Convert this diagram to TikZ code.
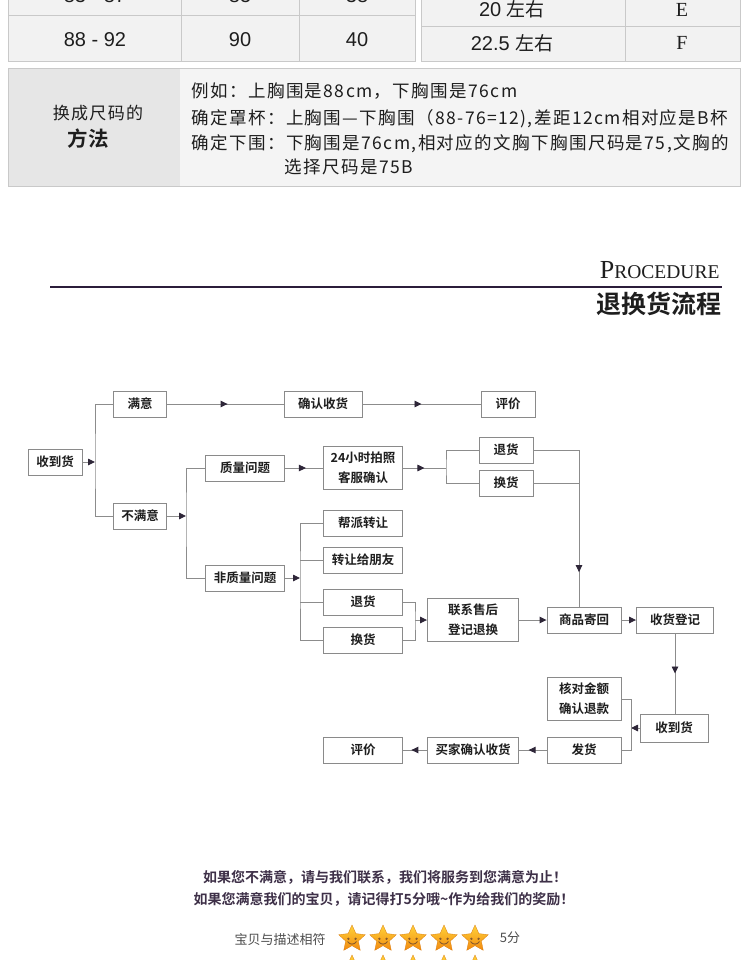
\documentclass[tikz,border=0pt]{standalone}
\usepackage{fontspec}
\usetikzlibrary{arrows.meta,decorations.markings,shapes.geometric}
\newfontfamily\cjk{Noto Sans CJK SC}[BoldFont={Noto Sans CJK SC Bold}]
\newfontfamily\cjkwide{Noto Sans CJK SC}[LetterSpace=8]
\newfontfamily\arialish{Liberation Sans}
\newfontfamily\timesish{Liberation Serif}

\definecolor{boxgray}{HTML}{8A8A8A}
\definecolor{linegray}{HTML}{8C8C8C}
\definecolor{arrowdark}{HTML}{2E2638}
\definecolor{textdark}{HTML}{1E1E1E}
\definecolor{cellgray}{HTML}{F2F2F2}
\definecolor{tableline}{HTML}{C9C9C9}
\definecolor{methodleft}{HTML}{E6E6E6}
\definecolor{methodright}{HTML}{F4F4F4}
\definecolor{headline}{HTML}{2B1D3A}
\definecolor{notepurple}{HTML}{3E3048}
\definecolor{starhi}{HTML}{FFD23A}
\definecolor{starlo}{HTML}{F28A10}

\tikzset{
  flowbox/.style={draw=boxgray, line width=0.9pt, fill=white, minimum height=26pt,
    inner sep=0pt, text=textdark, align=center,
    font=\cjk\bfseries\fontsize{12.5}{20}\selectfont},
  tallbox/.style={flowbox, minimum height=43pt},
  link/.style={draw=linegray, line width=0.9pt},
  endarrow/.style={-{Triangle[length=7pt,width=6.5pt,color=arrowdark]}},
  arrowat/.style={postaction={decorate}, decoration={markings,
    mark=at position #1 with {\arrow{Triangle[length=7pt,width=6.5pt,color=arrowdark]}}}},
  celltext/.style={font=\arialish\fontsize{20}{20}\selectfont, text=textdark},
  methodtext/.style={anchor=west, font=\cjkwide\fontsize{17.5}{18}\selectfont, text=textdark},
}

\begin{document}
\begin{tikzpicture}[x=1pt,y=-1pt]
\useasboundingbox (0,0) rectangle (750,960);
\clip (0,0) rectangle (750,960);
\fill[white] (0,0) rectangle (750,960);

% size tables (cut at the top)
\filldraw[fill=cellgray, draw=tableline] (8,-30) rectangle (415,61);
\draw[tableline] (8,15) -- (415,15) (181,-30) -- (181,61) (299,-30) -- (299,61);
\node[celltext] (lowA) at (95,-4) {83 - 87};
\node[celltext] (midA) at (240,-4) {85};
\node[celltext] (capA) at (357,-4) {38};
\node[celltext] (lowB) at (95,40) {88 - 92};
\node[celltext] (midB) at (240,40) {90};
\node[celltext] (capB) at (357,40) {40};

\filldraw[fill=cellgray, draw=tableline] (421,-30) rectangle (740,61);
\draw[tableline] (421,26) -- (740,26) (625,-30) -- (625,61);
\node[celltext] (diffE) at (512,9) {20 {\cjk\fontsize{19}{19}\selectfont 左右}};
\node[celltext, font=\timesish\fontsize{20}{20}\selectfont] (cupE) at (682,10) {E};
\node[celltext] (diffF) at (512,43) {22.5 {\cjk\fontsize{19}{19}\selectfont 左右}};
\node[celltext, font=\timesish\fontsize{20}{20}\selectfont] (cupF) at (682,43) {F};

% method box
\fill[methodleft] (8,68) rectangle (180,186);
\fill[methodright] (180,68) rectangle (740,186);
\draw[tableline] (8,68) rectangle (740,186);
\node[font=\cjkwide\fontsize{17}{18}\selectfont, text=textdark] (mhead) at (98,113) {换成尺码的};
\node[font=\cjk\bfseries\fontsize{20.5}{22}\selectfont, text=textdark] (mname) at (88,139) {方法};
\node[methodtext] (mline1) at (188,91) {例如：上胸围是88cm，下胸围是76cm};
\node[methodtext] (mline2) at (188,119) {确定罩杯：上胸围—下胸围（88-76=12),差距12cm相对应是B杯};
\node[methodtext] (mline3) at (188,144) {确定下围：下胸围是76cm,相对应的文胸下胸围尺码是75,文胸的};
\node[methodtext] (mline4) at (281,167) {选择尺码是75B};

% heading
\node[anchor=base east, text=textdark] (proc) at (723,278)
  {\timesish{\fontsize{26}{26}\selectfont P}{\fontsize{19.5}{20}\selectfont ROCEDURE}};
\draw[headline, line width=1.2pt] (50,287) -- (722,287);
\node[anchor=east, text=textdark, font=\cjk\bfseries\fontsize{25}{27}\selectfont] (title) at (725,304) {退换货流程};

% flow chart
\node[flowbox, minimum width=54pt] (recv) at (55,462) {收到货};
\node[flowbox, minimum width=53pt] (happy) at (140,404) {满意};
\node[flowbox, minimum width=78pt] (confirm) at (323,404) {确认收货};
\node[flowbox, minimum width=54pt] (review) at (508,404) {评价};
\node[flowbox, minimum width=53pt] (unhappy) at (140,516) {不满意};
\node[flowbox, minimum width=79pt] (quality) at (245,468) {质量问题};
\node[tallbox, minimum width=79pt] (photo) at (363,468) {24小时拍照\\客服确认};
\node[flowbox, minimum width=54pt] (returnA) at (506,450) {退货};
\node[flowbox, minimum width=54pt] (swapA) at (506,483) {换货};
\node[flowbox, minimum width=79pt] (gang) at (363,523) {帮派转让};
\node[flowbox, minimum width=79pt] (friend) at (363,560) {转让给朋友};
\node[flowbox, minimum width=79pt] (nonquality) at (245,578) {非质量问题};
\node[flowbox, minimum width=79pt] (returnB) at (363,602) {退货};
\node[flowbox, minimum width=79pt] (swapB) at (363,640) {换货};
\node[tallbox, minimum width=91pt] (service) at (473,620) {联系售后\\登记退换};
\node[flowbox, minimum width=74pt] (sendback) at (584,620) {商品寄回};
\node[flowbox, minimum width=77pt] (register) at (675,620) {收货登记};
\node[tallbox, minimum width=74pt] (refund) at (584,699) {核对金额\\确认退款};
\node[flowbox, minimum width=68pt, minimum height=28pt] (recvB) at (674,728) {收到货};
\node[flowbox, minimum width=74pt] (ship) at (584,750) {发货};
\node[flowbox, minimum width=91pt] (buyer) at (473,750) {买家确认收货};
\node[flowbox, minimum width=79pt] (reviewB) at (363,750) {评价};

\coordinate (forkA) at (95,462);
\coordinate (forkB) at (186,516);
\coordinate (forkC) at (446,468);
\coordinate (forkD) at (579,450);
\coordinate (forkE) at (300,578);
\coordinate (forkF) at (415,620);
\coordinate (forkG) at (631,728);

\draw[link, endarrow] (recv) -- (forkA);
\draw[link] (happy.west) -| (forkA) |- (unhappy.west);
\draw[link, arrowat=.52] (happy) -- (confirm);
\draw[link, arrowat=.5] (confirm) -- (review);

\draw[link, endarrow] (unhappy) -- (forkB);
\draw[link] (quality.west) -| (forkB) |- (nonquality.west);
\draw[link, arrowat=.55] (quality) -- (photo);
\draw[link, arrowat=.5] (photo) -- (forkC);
\draw[link] (returnA.west) -| (forkC) |- (swapA.west);

\draw[link] (returnA.east) -- (forkD);
\draw[link] (swapA.east) -- (swapA.east -| forkD);
\draw[link, arrowat=.78] (forkD) -- (forkD |- sendback.north);

\draw[link, endarrow] (nonquality) -- (forkE);
\draw[link] (gang.west) -| (forkE) |- (swapB.west);
\draw[link] (friend.west) -- (friend.west -| forkE);
\draw[link] (returnB.west) -- (returnB.west -| forkE);
\draw[link] (returnB.east) -| (forkF) |- (swapB.east);
\draw[link, endarrow] (forkF) -- (service);

\draw[link, endarrow] (service) -- (sendback);
\draw[link, endarrow] (sendback) -- (register);
\draw[link, arrowat=.5] (register) -- (register |- recvB.north);
\draw[link, endarrow] (recvB) -- (forkG);
\draw[link] (refund.east) -| (forkG) |- (ship.east);
\draw[link, arrowat=.65] (ship) -- (buyer);
\draw[link, arrowat=.65] (buyer) -- (reviewB);

% closing note
\node[font=\cjk\bfseries\fontsize{14}{16}\selectfont, text=notepurple] (note1) at (385,877)
  {如果您不满意，请与我们联系，我们将服务到您满意为止！};
\node[font=\cjk\bfseries\fontsize{14}{16}\selectfont, text=notepurple] (note2) at (384,899)
  {如果您满意我们的宝贝，请记得打5分哦\textasciitilde 作为给我们的奖励！};
\node[font=\cjk\fontsize{13}{15}\selectfont, text=black!70] (match) at (280,939) {宝贝与描述相符};
\node[font=\cjk\fontsize{13}{15}\selectfont, text=black!70] (score) at (510,938) {5分};
\foreach \sx in {352,383,413,444,475} {
  \foreach \sy in {939,969} {
    \node[star, star points=5, star point ratio=2.1, minimum size=28pt, inner sep=0pt,
      top color=starhi, bottom color=starlo, draw=starlo!90!black, line width=0.3pt] at (\sx,\sy) {};
    \fill[brown!70!black] (\sx-3.6,\sy-0.2) circle (1.3pt) (\sx+3.6,\sy-0.2) circle (1.3pt);
    \draw[brown!70!black, line width=0.9pt] (\sx-4.5,\sy+2.5) .. controls (\sx-2,\sy+6) and (\sx+2,\sy+6) .. (\sx+4.5,\sy+2.5);
  }
}
\end{tikzpicture}
\end{document}
